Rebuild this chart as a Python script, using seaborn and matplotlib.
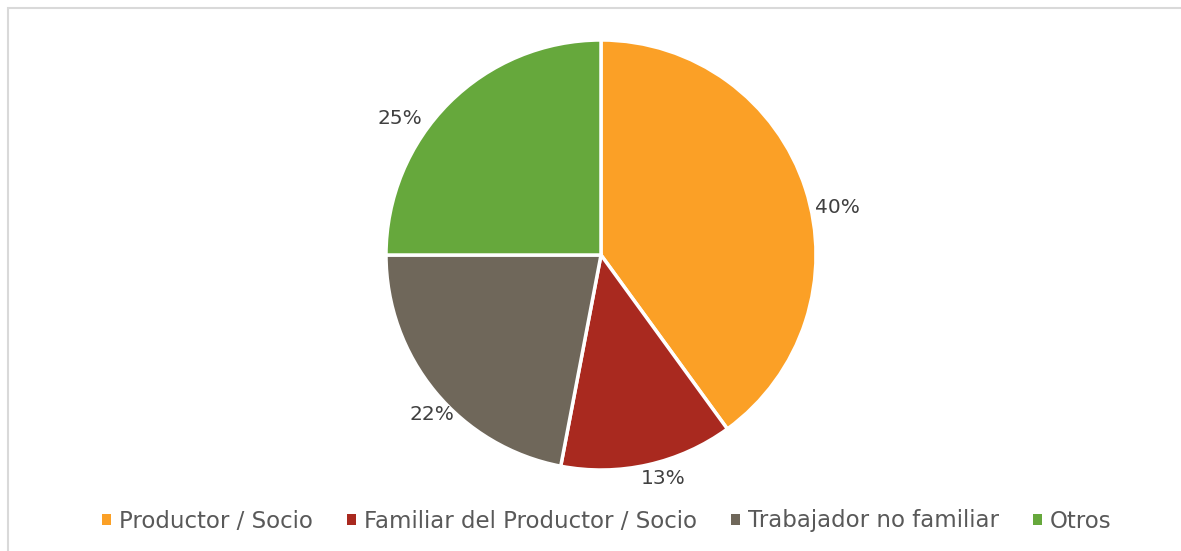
import numpy as np
import matplotlib.pyplot as plt
import seaborn as sns
from matplotlib.patches import Rectangle, Patch

categorias = ["Productor / Socio", "Familiar del Productor / Socio",
              "Trabajador no familiar", "Otros"]
porcentajes = [40, 13, 22, 25]
colores = ["#FBA026", "#A9291F", "#6F675A", "#66A83C"]

sns.set_theme(style="white")
plt.rcParams['font.family'] = ['DejaVu Sans']

fig = plt.figure(figsize=(11.81, 5.51), dpi=100)

# light grey chart border (cropped at right and bottom)
fig.patches.append(Rectangle((8 / 1181, -0.1), 1.2, (551 - 8) / 551 + 0.1,
                             transform=fig.transFigure, fill=False,
                             edgecolor="#D9D9D9", linewidth=1.5))

cx, cy, r = 601, 255, 215
ax = fig.add_axes([(cx - r) / 1181, (551 - cy - r) / 551, 2 * r / 1181, 2 * r / 551])

palette = sns.color_palette(colores)
wedges, texts, autotexts = ax.pie(
    porcentajes, colors=palette, startangle=90, counterclock=False,
    autopct="%d%%", pctdistance=1.1,
    wedgeprops=dict(edgecolor="white", linewidth=2.5),
    textprops=dict(color="#404040", fontsize=14.5))
ax.set_xlim(-1, 1)
ax.set_ylim(-1, 1)
ax.set_aspect("equal")

# nudge labels around the rim like the spreadsheet "best fit" placement
ajuste_ang = [-6.7, 2.9, 3.8, 10.7]
ajuste_dist = [1.12, 1.08, 1.08, 1.13]
for w, t, da, d in zip(wedges, autotexts, ajuste_ang, ajuste_dist):
    ang = np.deg2rad((w.theta1 + w.theta2) / 2 + da)
    t.set_position((d * np.cos(ang), d * np.sin(ang)))
    t.set_clip_on(False)

handles = [Patch(facecolor=c, edgecolor="none") for c in palette]
fig.legend(handles, categorias, loc="center", bbox_to_anchor=(607 / 1181, 1 - 521 / 551),
           ncol=4, frameon=False, fontsize=16.5, labelcolor="#595959",
           handlelength=0.38, handleheight=0.38, handletextpad=0.35, columnspacing=1.5)

fig.savefig("out.png", dpi=100)
